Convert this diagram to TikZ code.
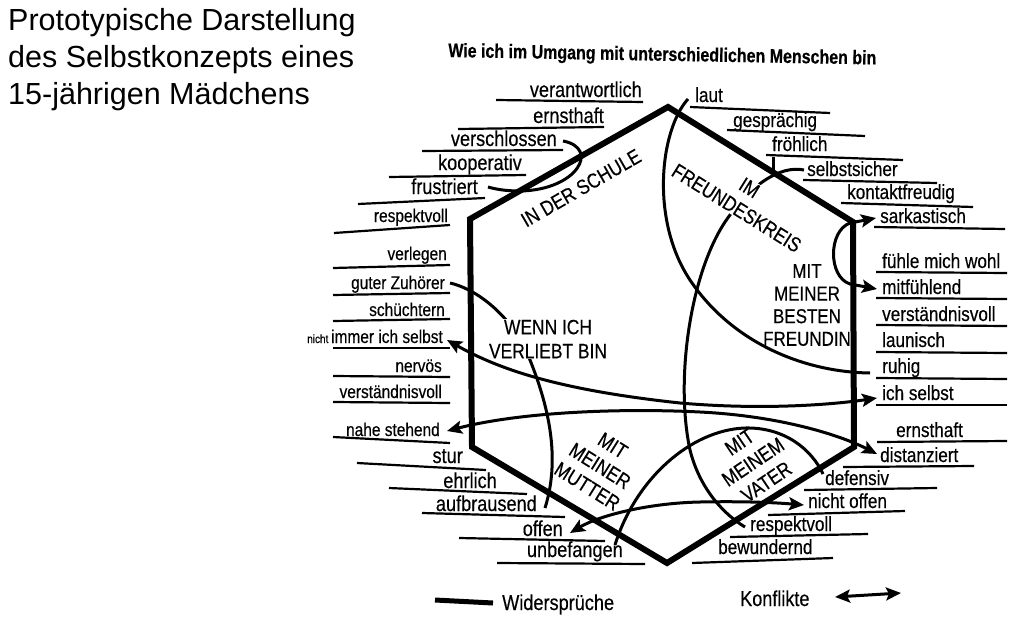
\documentclass[tikz,border=0pt]{standalone}
\usepackage{fontspec}
\setmainfont{Liberation Sans}
\newfontfamily\lf[FakeStretch=0.84,FakeBold=0.35]{Liberation Sans}
\newfontfamily\tf[FakeStretch=0.82,FakeBold=0.4]{Liberation Sans}
\usetikzlibrary{arrows.meta}
\begin{document}
\begin{tikzpicture}[x=1pt,y=-1pt,
 ul/.style={line width=2.2pt},
 hexa/.style={line width=6pt, line join=miter},
 wid/.style={line width=3pt},
 kon/.style={line width=3pt, {Stealth[length=15pt,width=13pt,inset=3pt]}-{Stealth[length=15pt,width=13pt,inset=3pt]}},
 labL/.style={anchor=base east, inner sep=0pt},
 labR/.style={anchor=base west, inner sep=0pt},
 fa/.style={font=\lf\fontsize{21.6}{20}\selectfont},
 fb/.style={font=\lf\fontsize{18.4}{18}\selectfont},
 fd/.style={font=\lf\fontsize{20.4}{20}\selectfont},
 sec/.style={font=\lf\fontsize{20.7}{24}\selectfont, align=center, inner sep=1pt},
]
\fill[white] (0,0) rectangle (1019,634);
\useasboundingbox (0,0) rectangle (1019,634);

% titles
\node[anchor=north west, inner sep=0pt, align=left, font=\fontsize{30.5}{37}\selectfont] (title) at (8,8.5)
 {Prototypische Darstellung\\des Selbstkonzepts eines\\15-jährigen Mädchens};
\node[anchor=base west, inner sep=0pt, rotate=-1, font=\tf\bfseries\fontsize{19.5}{20}\selectfont] (dtitle) at (448,57)
 {Wie ich im Umgang mit unterschiedlichen Menschen bin};

% underlines left
\draw[ul] (496,100) -- (643,102);
\draw[ul] (458,129) -- (604,127);
\draw[ul] (422,151) -- (563,150);
\draw[ul] (389,177) -- (526,175);
\draw[ul] (358,204) -- (485,198);
\draw[ul] (334,233) -- (450,225);
\draw[ul] (333,268) -- (450,265);
\draw[ul] (333,295) -- (450,293);
\draw[ul] (333,321) -- (450,319);
\draw[ul] (333,348) -- (450,348);
\draw[ul] (333,376) -- (450,377);
\draw[ul] (333,402) -- (450,403);
\draw[ul] (333,437) -- (450,443);
\draw[ul] (357,463) -- (486,470);
\draw[ul] (389,488) -- (527,494);
\draw[ul] (422,513) -- (565,517);
\draw[ul] (459,538) -- (605,541);
\draw[ul] (497,563) -- (645,564);
% underlines right
\draw[ul] (690,107) -- (830,113);
\draw[ul] (727,130) -- (865,136);
\draw[ul] (766,155) -- (903,160);
\draw[ul] (803,180) -- (937,183);
\draw[ul] (841,203) -- (973,207);
\draw[ul] (874,227) -- (1005,229);
\draw[ul] (876,272) -- (1007,273);
\draw[ul] (876,298) -- (1007,299);
\draw[ul] (876,325) -- (1007,326);
\draw[ul] (876,352) -- (1007,353);
\draw[ul] (876,378) -- (1007,379);
\draw[ul] (876,405) -- (1007,405);
\draw[ul] (877,442) -- (1007,441);
\draw[ul] (843,467) -- (974,466);
\draw[ul] (804,490) -- (937,488);
\draw[ul] (768,515) -- (905,511);
\draw[ul] (730,537) -- (868,534);
\draw[ul] (692,563) -- (833,558);

% labels left
\node[labL,fa] (l-verantw) at (642,97) {verantwortlich};
\node[labL,fa] (l-ernst) at (604,123) {ernsthaft};
\node[labL,fa] (l-verschl) at (557,146) {verschlossen};
\node[labL,fa] (l-koop) at (522,170) {kooperativ};
\node[labL,fa] (l-frust) at (478,194) {frustriert};
\node[labL,fb] (l-resp) at (448,222) {respektvoll};
\node[labL,fb] (l-verleg) at (447,260) {verlegen};
\node[labL,fb] (l-zuh) at (445,289) {guter Zuhörer};
\node[labL,fb] (l-schuech) at (445,316) {schüchtern};
\node[labL,fb] (l-nichtimmer) at (443,343) {{\fontsize{11.9}{12}\selectfont nicht }immer ich selbst};
\node[labL,fb] (l-nerv) at (442,372) {nervös};
\node[labL,fb] (l-verst) at (442,398) {verständnisvoll};
\node[labL,fb] (l-nahe) at (440,436) {nahe stehend};
\node[labL,fa] (l-stur) at (463,463) {stur};
\node[labL,fa] (l-ehrl) at (497,488) {ehrlich};
\node[labL,fa] (l-aufbr) at (537,511) {aufbrausend};
\node[labL,fa] (l-offen) at (563,536) {offen};
\node[labL,fa] (l-unbef) at (623,557) {unbefangen};
% labels right
\node[labR,fd] (r-laut) at (695,102) {laut};
\node[labR,fd] (r-gespr) at (733,127) {gesprächig};
\node[labR,fd] (r-froeh) at (772,151) {fröhlich};
\node[labR,fd] (r-selbsts) at (807,176) {selbstsicher};
\node[labR,fd] (r-kontakt) at (847,199) {kontaktfreudig};
\node[labR,fd] (r-sark) at (880,223) {sarkastisch};
\node[labR,fd] (r-wohl) at (882,268) {fühle mich wohl};
\node[labR,fd] (r-mitf) at (882,294) {mitfühlend};
\node[labR,fd] (r-verst) at (882,321) {verständnisvoll};
\node[labR,fd] (r-laun) at (882,347) {launisch};
\node[labR,fd] (r-ruhig) at (882,373) {ruhig};
\node[labR,fd] (r-ichs) at (882,400) {ich selbst};
\node[labR,fd] (r-ernst) at (896,437) {ernsthaft};
\node[labR,fd] (r-dist) at (880,462) {distanziert};
\node[labR,fd] (r-def) at (825,485) {defensiv};
\node[labR,fd] (r-nichtoff) at (808,508) {nicht offen};
\node[labR,fd] (r-resp) at (750,531) {respektvoll};
\node[labR,fd] (r-bew) at (718,554) {bewundernd};

% connector end points
\coordinate (c-vs) at (563,141);
\coordinate (c-fr) at (488,187);
\coordinate (c-laut) at (688,99);
\coordinate (c-ruhig) at (870,373);
\coordinate (c-froh) at (773,157);
\coordinate (c-froh2) at (773,176);
\coordinate (c-ss) at (804,170);
\coordinate (c-rv) at (745,527);
\coordinate (c-gz) at (450,283);
\coordinate (c-ab) at (545,508);
\coordinate (c-ub) at (615,545);
\coordinate (c-df) at (823,474);
\coordinate (k-sar) at (876,218);
\coordinate (k-mit) at (877,289);
\coordinate (k-nis) at (447,340);
\coordinate (k-is) at (877,398);
\coordinate (k-ns) at (447,431);
\coordinate (k-di) at (877,454);
\coordinate (k-of) at (570,533);
\coordinate (k-nof) at (804,505);

% Widersprueche
\draw[wid] (c-vs) .. controls (600,148) and (578,190) .. (520,191) .. controls (505,191) and (495,189) .. (c-fr);
\draw[wid] (c-laut) .. controls (660,130) and (650,220) .. (690,280) .. controls (730,340) and (800,372) .. (c-ruhig);
\draw[wid] (c-froh) -- (c-froh2);
\draw[wid] (c-ss) .. controls (780,165) and (750,185) .. (725,222) .. controls (690,275) and (675,380) .. (690,450) .. controls (700,490) and (725,515) .. (c-rv);
\draw[wid] (c-gz) .. controls (480,290) and (515,320) .. (530,360) .. controls (550,410) and (560,460) .. (c-ab);
\draw[wid] (c-ub) .. controls (635,480) and (690,430) .. (745,428) .. controls (785,427) and (812,450) .. (c-df);

% Konflikte
\draw[kon] (k-sar) -- (850,223) .. controls (828,231) and (828,277) .. (850,284) -- (k-mit);
\draw[kon] (k-nis) .. controls (500,370) and (560,390) .. (680,403) .. controls (760,410) and (830,405) .. (k-is);
\draw[kon] (k-ns) .. controls (520,412) and (620,408) .. (700,412) .. controls (780,416) and (840,435) .. (k-di);
\draw[kon] (k-of) .. controls (600,515) and (650,503) .. (700,502) .. controls (750,501) and (780,503) .. (k-nof);

% section labels
\node[sec, rotate=30] (s-schule) at (581,188) {IN DER SCHULE};
\node[sec, rotate=-32, fill=white] (s-freunde) at (743,198) {IM\\FREUNDESKREIS};
\node[sec, font=\lf\fontsize{20.2}{22.6}\selectfont] (s-beste) at (807,305) {MIT\\MEINER\\BESTEN\\FREUNDIN};
\node[sec, fill=white] (s-verliebt) at (548,339) {WENN ICH\\VERLIEBT BIN};
\node[sec, rotate=-32] (s-mutter) at (600,466) {MIT\\MEINER\\MUTTER};
\node[sec, rotate=34] (s-vater) at (753,462) {MIT\\MEINEM\\VATER};

% hexagon
\draw[hexa] (470,219) -- (668,107) -- (853,222) -- (854,447) -- (667,563) -- (472,447) -- cycle;

% legend
\draw[line width=5pt] (435,600) -- (493,603);
\node[labR, font=\lf\fontsize{21.6}{20}\selectfont] (leg-w) at (502,610) {Widersprüche};
\node[labR, font=\lf\fontsize{21.5}{20}\selectfont] (leg-k) at (740,606) {Konflikte};
\coordinate (leg-a) at (835,597);
\coordinate (leg-b) at (901,593);
\draw[kon] (leg-a) -- (leg-b);
\end{tikzpicture}
\end{document}
